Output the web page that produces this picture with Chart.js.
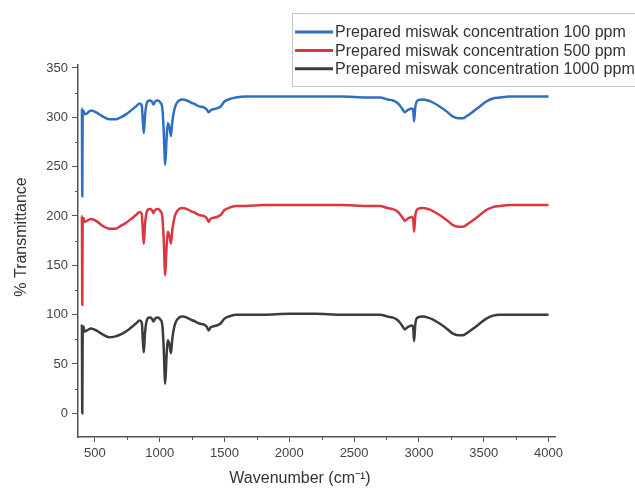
<!DOCTYPE html>
<html>
<head>
<meta charset="utf-8">
<script src="https://cdn.jsdelivr.net/npm/chart.js@4.4.1/dist/chart.umd.min.js"></script>
<style>
body{margin:0;background:#fff}
#wrap{width:635px;height:496px;position:relative}
</style>
</head>
<body>
<div id="wrap"><canvas id="ftir"></canvas></div>
<script>

// wavenumber (cm-1), shared by the three spectra
const wavenumbers=[397,400,403,406,412,420,440,470,510,560,610,660,700,740,780,817,845,862,872,878,886,900,920,940,952,965,985,1005,1020,1030,1043,1052,1062,1075,1087,1097,1110,1126,1150,1177,1210,1241,1275,1305,1340,1362,1378,1392,1410,1440,1470,1500,1530,1588,1665,1800,2000,2200,2400,2600,2700,2760,2800,2830,2853,2875,2891,2910,2924,2945,2955,2963,2972,2990,3030,3070,3109,3160,3213,3260,3302,3340,3367,3420,3470,3520,3572,3624,3700,3800,3900,4000]

const ppm100=[309,309,220,303,307,303,304,307,305,301,298,298,300,303,307,311,314,312,292,284,300,314,317,316,313,316,317,315,310,290,252,275,294,290,281,295,306,313,317,318,317,315,313,311,310,308,305,307,308,309,311,316,318,320,321,321,321,321,321,320,320,318,317,315,312,308,305,307,308,309,308,296,310,317,318,317,315,311,306,301,299,299,301,306,311,316,319,320,321,321,321,321]

const ppm500=[200,200,110,196,198,194,195,197,195,190,187,187,190,193,197,201,204,202,180,172,190,204,207,206,203,206,207,205,200,180,140,165,184,180,172,185,196,203,207,208,207,205,203,201,200,198,194,197,198,199,201,206,208,210,210,211,211,211,211,210,210,208,207,205,202,198,195,197,198,199,198,184,200,207,208,207,205,201,196,191,189,189,191,196,201,206,209,210,211,211,211,211]

const ppm1000=[88,89,0,86,88,83,84,86,84,80,77,78,80,83,87,91,94,92,70,62,80,94,97,96,93,96,97,95,90,70,30,55,74,70,61,75,86,93,97,98,97,95,93,91,90,88,84,87,88,89,91,96,98,100,100,100,101,101,100,100,100,98,97,95,92,88,85,87,88,89,88,73,90,97,98,97,95,91,86,81,79,79,81,86,91,96,99,100,100,100,100,100]

const seriesLabels=["Prepared miswak concentration 100 ppm","Prepared miswak concentration 500 ppm","Prepared miswak concentration 1000 ppm"]
const seriesColors=["#2f6fc2","#dc3641","#3c3c3c"]

const xTicks=[500,1000,1500,2000,2500,3000,3500,4000]
const xMinor=[750,1250,1750,2250,2750,3250,3750]
const yTicks=[0,50,100,150,200,250,300,350]
const yMinor=[25,75,125,175,225,275,325]

const FONT="'Liberation Sans', Arial, sans-serif"
const AXIS="#555"

function points(vals){
return wavenumbers.map((w,i)=>({x:w,y:vals[i]}))
}

function series(label,vals,color){
return{
label:label,
data:points(vals),
borderColor:color,
backgroundColor:color,
borderWidth:2.5,
pointRadius:0,
cubicInterpolationMode:"monotone",
fill:false
}
}

// minor ticks, axis titles and the boxed legend
const extras={
id:"extras",
afterDraw(chart){
const ctx=chart.ctx
const x=chart.scales.x
const y=chart.scales.y
const ca=chart.chartArea

ctx.save()
ctx.strokeStyle=AXIS
ctx.lineWidth=1
xMinor.forEach(v=>{
const px=Math.round(x.getPixelForValue(v))+0.5
ctx.beginPath()
ctx.moveTo(px,ca.bottom)
ctx.lineTo(px,ca.bottom+3)
ctx.stroke()
})
yMinor.forEach(v=>{
const py=Math.round(y.getPixelForValue(v))+0.5
ctx.beginPath()
ctx.moveTo(ca.left,py)
ctx.lineTo(ca.left-3,py)
ctx.stroke()
})

ctx.fillStyle="#333"
ctx.font="16px "+FONT
ctx.textAlign="center"
ctx.textBaseline="middle"
ctx.fillText("Wavenumber (cm\u207B\u00B9)",300,479)

ctx.save()
ctx.translate(22,237)
ctx.rotate(-Math.PI/2)
ctx.fillText("% Transmittance",0,0)
ctx.restore()

// legend
ctx.fillStyle="#fff"
ctx.fillRect(292,13,360,73)
ctx.strokeStyle="#c4c4c4"
ctx.lineWidth=1
ctx.strokeRect(292.5,13.5,360,73)

ctx.font="16px "+FONT
ctx.textAlign="left"
chart.data.datasets.forEach((ds,i)=>{
const ly=32+i*18.4
ctx.strokeStyle=ds.borderColor
ctx.lineWidth=3
ctx.beginPath()
ctx.moveTo(295,ly)
ctx.lineTo(333,ly)
ctx.stroke()
ctx.fillStyle="#333"
ctx.fillText(ds.label,335,ly+1)
})
ctx.restore()
}
}

new Chart(document.getElementById("ftir"),{

type:"line",

data:{
datasets:[
series(seriesLabels[0],ppm100,seriesColors[0]),
series(seriesLabels[1],ppm500,seriesColors[1]),
series(seriesLabels[2],ppm1000,seriesColors[2])
]
},

options:{
responsive:true,
maintainAspectRatio:false,
animation:false,
devicePixelRatio:1,
layout:{padding:{left:0,right:80,top:65,bottom:0}},
plugins:{legend:{display:false},tooltip:{enabled:false}},
scales:{
x:{
type:"linear",
min:370,
max:4050,
afterBuildTicks:s=>{s.ticks=xTicks.map(v=>({value:v}))},
afterFit:s=>{s.height=59},
grid:{drawOnChartArea:false,drawTicks:true,tickLength:5,tickColor:AXIS},
border:{display:true,color:AXIS,width:1.5},
ticks:{color:"#444",font:{family:FONT,size:13},padding:4,maxRotation:0,callback:v=>String(v)}
},
y:{
min:-24,
max:353,
afterBuildTicks:s=>{s.ticks=yTicks.map(v=>({value:v}))},
afterFit:s=>{s.width=78},
grid:{drawOnChartArea:false,drawTicks:true,tickLength:6,tickColor:AXIS},
border:{display:true,color:AXIS,width:1.5},
ticks:{color:"#444",font:{family:FONT,size:13},padding:4,callback:v=>String(v)}
}
}
},

plugins:[extras]

})

</script>
</body>
</html>
